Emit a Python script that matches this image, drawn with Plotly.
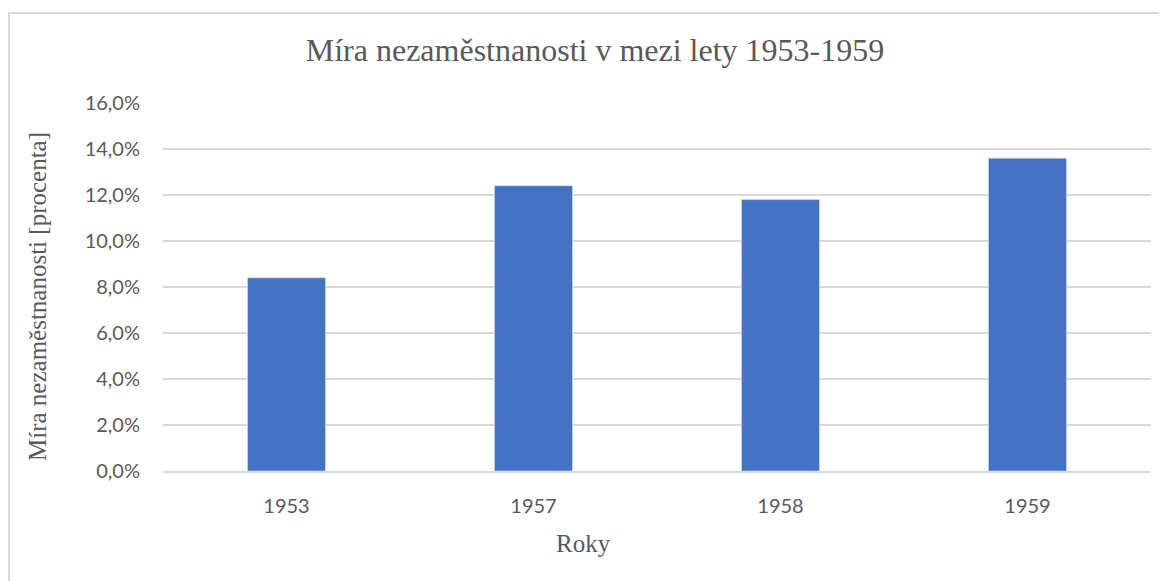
import plotly.graph_objects as go

roky = ["1953", "1957", "1958", "1959"]
mira = [0.084, 0.124, 0.118, 0.136]

title_font = "Liberation Serif, Times New Roman, serif"
tick_font = "Lato, Open Sans, sans-serif"

# the page adds an 8px body margin, so the figure is a bit smaller
fig = go.Figure(go.Bar(x=roky, y=mira, marker_color="#4472C4", width=0.316))

fig.update_layout(
    width=1159, height=573,
    paper_bgcolor="white", plot_bgcolor="white",
    separators=",.",
    margin=dict(l=155, r=16, t=95, b=110),
    showlegend=False,
    title=dict(text="Míra nezaměstnanosti v mezi lety 1953-1959",
               x=587 / 1159, xanchor="center", xref="container",
               y=1 - 42 / 573, yanchor="middle", yref="container",
               font=dict(family=title_font, size=32, color="#595959")),
)
fig.update_yaxes(range=[0, 0.16], dtick=0.02, tickformat=".1%",
                 gridcolor="#d9d9d9", gridwidth=1.5, zeroline=False,
                 showline=False, ticklabelstandoff=22,
                 tickfont=dict(family=tick_font, size=20, color="#595959"))
fig.update_xaxes(showgrid=False, showline=True, linecolor="#d9d9d9", linewidth=1.5,
                 ticklabelstandoff=16,
                 tickfont=dict(family=tick_font, size=20, color="#595959"))

# axis titles
fig.add_annotation(text="Míra nezaměstnanosti [procenta]", textangle=-90,
                   xref="paper", yref="paper", x=(37 - 163) / 988, y=(471 - 297) / 368,
                   xanchor="center", yanchor="middle", showarrow=False,
                   font=dict(family=title_font, size=25, color="#595959"))
fig.add_annotation(text="Roky", xref="paper", yref="paper",
                   x=(583 - 163) / 988, y=(471 - 543) / 368,
                   xanchor="center", yanchor="middle", showarrow=False,
                   font=dict(family=title_font, size=25, color="#595959"))

# chart border
fig.add_shape(type="rect", xref="paper", yref="paper",
              x0=(9 - 163) / 988, x1=1.2, y0=-0.6, y1=(471 - 13) / 368,
              line=dict(color="#d9d9d9", width=2), layer="below")

fig.write_html("out.html")
